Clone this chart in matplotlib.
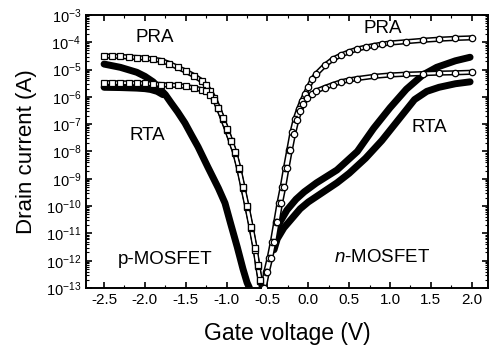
import matplotlib
matplotlib.use('Agg')
import matplotlib.pyplot as plt
from matplotlib.ticker import FixedLocator, LogLocator, NullFormatter

plt.rcParams['font.family'] = ['Liberation Sans', 'DejaVu Sans']
plt.rcParams['mathtext.fontset'] = 'custom'
plt.rcParams['mathtext.rm'] = 'Liberation Sans'
plt.rcParams['mathtext.it'] = 'Liberation Sans:italic'

# p-MOSFET, PRA (open squares), log10(I)
p_pra_hi_v = [-2.5, -2.4, -2.3, -2.2, -2.1, -2.0, -1.9, -1.8, -1.7, -1.6, -1.5, -1.4,
              -1.3, -1.25, -1.2, -1.15, -1.1, -1.05, -1.0, -0.95, -0.9, -0.85, -0.8,
              -0.75, -0.7, -0.65, -0.62, -0.59, -0.57]
p_pra_hi_log = [-4.50, -4.51, -4.52, -4.54, -4.56, -4.58, -4.62, -4.67, -4.78, -4.92,
                -5.06, -5.22, -5.42, -5.58, -5.80, -6.05, -6.40, -6.80, -7.20, -7.62,
                -8.05, -8.65, -9.35, -10.05, -10.8, -11.6, -12.2, -12.75, -13.0]
p_pra_lo_v = [-2.5, -2.4, -2.3, -2.2, -2.1, -2.0, -1.9, -1.8, -1.7, -1.6, -1.5, -1.4,
              -1.3, -1.25, -1.2, -1.15, -1.1, -1.05, -1.0, -0.95, -0.9, -0.85, -0.8,
              -0.75, -0.7, -0.65, -0.62, -0.59, -0.56]
p_pra_lo_log = [-5.48, -5.48, -5.49, -5.49, -5.50, -5.51, -5.53, -5.55, -5.57, -5.58,
                -5.62, -5.67, -5.74, -5.80, -5.92, -6.10, -6.42, -6.78, -7.17, -7.60,
                -8.02, -8.60, -9.30, -10.0, -10.75, -11.55, -12.15, -12.7, -13.0]

# p-MOSFET, RTA (thick solid)
p_rta_hi_v = [-2.5, -2.3, -2.1, -2.0, -1.9, -1.84, -1.75, -1.68, -1.6, -1.51, -1.43,
              -1.35, -1.23, -1.1, -1.02, -0.95, -0.87, -0.8, -0.75, -0.72]
p_rta_hi_log = [-4.80, -4.92, -5.10, -5.25, -5.45, -5.64, -5.92, -6.22, -6.55, -6.96,
                -7.40, -7.83, -8.57, -9.35, -9.89, -10.65, -11.5, -12.3, -12.8, -13.0]
p_rta_lo_v = [-2.5, -2.3, -2.1, -2.0, -1.93, -1.85, -1.78]
p_rta_lo_log = [-5.65, -5.66, -5.68, -5.70, -5.73, -5.80, -5.92]

# n-MOSFET, PRA (open circles)
n_pra_hi_v = [-0.56, -0.52, -0.48, -0.44, -0.40, -0.36, -0.32, -0.28, -0.24, -0.20,
              -0.16, -0.12, -0.08, -0.04, 0.0, 0.05, 0.1, 0.2, 0.3, 0.4, 0.5, 0.6,
              0.7, 0.8, 0.9, 1.0, 1.2, 1.4, 1.6, 1.8, 2.0]
n_pra_hi_log = [-13.0, -12.4, -11.9, -11.3, -10.6, -9.9, -9.3, -8.6, -7.95, -7.3,
                -6.8, -6.45, -6.15, -5.9, -5.65, -5.35, -5.15, -4.85, -4.62, -4.47,
                -4.35, -4.25, -4.18, -4.12, -4.07, -4.03, -3.98, -3.93, -3.89, -3.86,
                -3.84]
n_pra_lo_v = [-0.54, -0.50, -0.46, -0.42, -0.38, -0.34, -0.30, -0.26, -0.22, -0.18,
              -0.14, -0.10, -0.06, -0.02, 0.05, 0.1, 0.2, 0.3, 0.4, 0.5, 0.6, 0.8,
              1.0, 1.2, 1.4, 1.6, 1.8, 2.0]
n_pra_lo_log = [-13.0, -12.4, -11.9, -11.3, -10.6, -9.9, -9.3, -8.6, -7.95, -7.35,
                -6.85, -6.5, -6.25, -6.05, -5.88, -5.78, -5.66, -5.55, -5.45, -5.38,
                -5.33, -5.25, -5.20, -5.17, -5.15, -5.13, -5.12, -5.10]

# n-MOSFET, RTA (thick solid)
n_rta_hi_v = [-0.44, -0.40, -0.35, -0.26, -0.15, -0.05, 0.1, 0.35, 0.6, 0.8, 1.0,
              1.2, 1.4, 1.57, 1.8, 1.98]
n_rta_hi_log = [-11.6, -11.1, -10.6, -10.14, -9.75, -9.48, -9.15, -8.68, -8.0, -7.15,
                -6.4, -5.72, -5.2, -4.92, -4.68, -4.55]
n_rta_lo_v = [-0.42, -0.38, -0.3, -0.2, -0.1, 0.0, 0.2, 0.35, 0.5, 0.7, 0.9, 1.1,
              1.3, 1.45, 1.6, 1.8, 1.98]
n_rta_lo_log = [-11.6, -11.2, -10.8, -10.45, -10.1, -9.85, -9.45, -9.15, -8.8, -8.25,
                -7.6, -6.85, -6.1, -5.8, -5.65, -5.52, -5.45]

x_ticks = [-2.5, -2.0, -1.5, -1.0, -0.5, 0.0, 0.5, 1.0, 1.5, 2.0]
x_tick_labels = ['-2.5', '-2.0', '-1.5', '-1.0', '-0.5', '0.0', '0.5', '1.0', '1.5', '2.0']
y_exps = list(range(-13, -2))


def to_amps(logs):
    return [10.0 ** v for v in logs]


def hollow(ax, v, logs, marker, ms):
    # open-marker chain: black tube, white core, then the markers
    i = to_amps(logs)
    ax.plot(v, i, color='black', linewidth=3.8, solid_capstyle='round', zorder=3)
    ax.plot(v, i, color='white', linewidth=1.6, solid_capstyle='round', zorder=4)
    ax.plot(v, i, linestyle='none', marker=marker, markersize=ms,
            markerfacecolor='white', markeredgecolor='black', markeredgewidth=0.9,
            zorder=5)


fig = plt.figure(figsize=(4.92, 3.47), dpi=100)
ax = fig.add_axes([0.175, 0.170, 0.817, 0.787])

thick = dict(color='black', linewidth=5.0, solid_capstyle='round', zorder=2)
ax.plot(p_rta_hi_v, to_amps(p_rta_hi_log), **thick)
ax.plot(p_rta_lo_v, to_amps(p_rta_lo_log), **thick)
ax.plot(n_rta_hi_v, to_amps(n_rta_hi_log), **thick)
ax.plot(n_rta_lo_v, to_amps(n_rta_lo_log), **thick)

hollow(ax, p_pra_hi_v, p_pra_hi_log, 's', 4.2)
hollow(ax, p_pra_lo_v, p_pra_lo_log, 's', 4.2)
hollow(ax, n_pra_hi_v, n_pra_hi_log, 'o', 4.6)
hollow(ax, n_pra_lo_v, n_pra_lo_log, 'o', 4.6)

ax.set_yscale('log')
ax.set_ylim(1e-13, 1e-3)
ax.set_xlim(-2.72, 2.2)
ax.set_xticks(x_ticks)
ax.set_xticklabels(x_tick_labels)
ax.xaxis.set_minor_locator(FixedLocator([t + 0.25 for t in x_ticks]))
ax.yaxis.set_major_locator(FixedLocator([10.0 ** e for e in y_exps]))
ax.set_yticklabels([r'$10^{%d}$' % e for e in y_exps])
ax.yaxis.set_minor_locator(LogLocator(base=10, subs=range(2, 10), numticks=20))
ax.yaxis.set_minor_formatter(NullFormatter())

ax.tick_params(which='both', direction='in', top=True, right=True, labelsize=11)
ax.tick_params(axis='y', labelsize=10.5)
ax.tick_params(which='major', length=4, width=1.2)
ax.tick_params(which='minor', length=2, width=0.8)
for s in ax.spines.values():
    s.set_linewidth(1.4)

ax.set_xlabel('Gate voltage (V)', fontsize=16.5, labelpad=11)
ax.set_ylabel('Drain current (A)', fontsize=16, labelpad=6)

lab = dict(fontsize=13.5, va='center', ha='left')
ax.text(-2.11, 10 ** -3.84, 'PRA', **lab)
ax.text(0.67, 10 ** -3.48, 'PRA', **lab)
ax.text(-2.19, 10 ** -7.4, 'RTA', **lab)
ax.text(1.26, 10 ** -7.14, 'RTA', **lab)
ax.text(-2.33, 10 ** -11.97, 'p-MOSFET', **lab)
ax.text(0.32, 10 ** -11.9, r'$\mathit{n}$-MOSFET', **lab)

fig.savefig('out.png', dpi=100)
